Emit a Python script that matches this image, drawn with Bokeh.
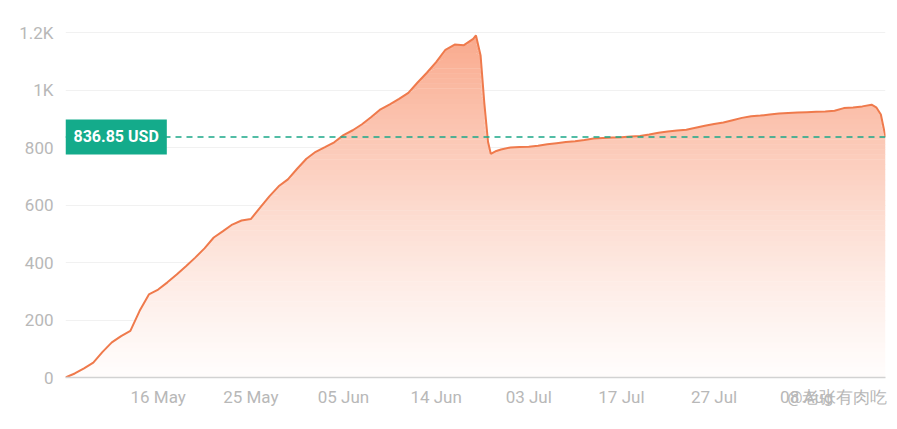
import numpy as np
from bokeh.plotting import figure
from bokeh.models import Range1d, Span, Label, FixedTicker
from bokeh.embed import file_html
from bokeh.resources import INLINE

# ---- data ----
x_idx = [0, 1, 2, 3, 4, 5, 6, 7, 8, 9, 10, 11, 12, 13, 14, 15, 16, 17, 18, 19,
         20, 21, 22, 23, 24, 25, 26, 27, 28, 29, 30, 31, 32, 33, 34, 35, 36, 37, 38, 39,
         40, 41, 42, 43, 44, 44.3, 44.8, 45.2, 45.6, 45.9, 46.5, 47, 48, 49,
         50, 51, 52, 53, 54, 55, 56, 57, 58, 59, 60, 61, 62, 63, 64, 65, 66, 67, 68, 69,
         70, 71, 72, 73, 74, 75, 76, 77, 78, 79, 80, 81, 82, 83, 84, 85, 86, 87, 87.5, 88, 88.5]
values = [0, 14, 32, 52, 89, 122, 144, 162, 232, 289, 306, 331, 358, 387, 417, 449, 487, 509, 532, 546,
          551, 591, 630, 665, 689, 726, 761, 785, 801, 818, 843, 860, 881, 906, 933, 950, 969, 990, 1026, 1060,
          1097, 1140, 1158, 1156, 1178, 1190, 1120, 955, 820, 778, 788, 793, 800, 802,
          803, 806, 811, 815, 819, 822, 826, 831, 833, 835, 836, 838, 840, 845, 851, 856, 859, 862, 869, 876,
          882, 887, 895, 903, 909, 911, 915, 918, 920, 922, 923, 924, 925, 928, 937, 939, 943, 949, 940, 915, 836.85]
tick_pos = [10, 20, 30, 40, 50, 60, 70, 80]
tick_labels = ["16 May", "25 May", "05 Jun", "14 Jun", "03 Jul", "17 Jul", "27 Jul", "08 Aug"]
y_ticks = [0, 200, 400, 600, 800, 1000, 1200]
y_tick_labels = ["0", "200", "400", "600", "800", "1K", "1.2K"]
last_price = 836.85
price_text = "836.85 USD"
watermark = "@老张有肉吃"
watermark_pos = 83.3

X_END = 88.5
Y_END = 1234.8

p = figure(width=897, height=429, output_backend="svg", toolbar_location=None,
           x_range=Range1d(0, X_END), y_range=Range1d(0, Y_END),
           min_border_left=65, min_border_right=12, min_border_top=22, min_border_bottom=52)
p.outline_line_color = None
p.background_fill_color = "white"
p.border_fill_color = "white"

# ---- gradient fill built from horizontal bands ----
xs = np.array(x_idx, dtype=float)
vs = np.array(values, dtype=float)
top_rgb = np.array([0xF6, 0x7C, 0x50])
n_bands = 70
h = Y_END / n_bands
for k in range(n_bands):
    lo, hi = k * h, (k + 1) * h
    frac = (lo + h / 2) / Y_END
    a = 0.02 + 0.66 * frac ** 1.25
    rgb = (1 - a) * 255 + a * top_rgb
    col = "#%02x%02x%02x" % tuple(int(round(c)) for c in rgb)
    top = np.minimum(vs, hi)
    bot = np.maximum(np.minimum(vs, lo - 1.5), 0)
    p.varea(x=xs, y1=bot, y2=top, fill_color=col, fill_alpha=1.0)

p.line(xs, vs, line_color="#ef7a4c", line_width=2)

# ---- axes / grid ----
xt = tick_pos + [watermark_pos]
p.xaxis.ticker = FixedTicker(ticks=xt)
p.xaxis.major_label_overrides = {**{t: l for t, l in zip(tick_pos, tick_labels)}, watermark_pos: watermark}
p.yaxis.ticker = FixedTicker(ticks=y_ticks)
p.yaxis.major_label_overrides = {t: l for t, l in zip(y_ticks, y_tick_labels)}
for ax in (p.xaxis, p.yaxis):
    ax.major_tick_line_color = None
    ax.minor_tick_line_color = None
    ax.major_label_text_color = "#b8b8b8"
    ax.major_label_text_font = "Roboto"
    ax.major_label_text_font_size = "17px"
p.yaxis.axis_line_color = None
p.yaxis.major_label_standoff = 6
p.xaxis.axis_line_color = "#d2d2d2"
p.xaxis.axis_line_width = 1.5
p.xaxis.major_label_standoff = 3
p.xgrid.grid_line_color = None
p.ygrid.grid_line_color = "#f1f1f1"
p.ygrid.grid_line_width = 1

# ---- last price line and tag ----
p.add_layout(Span(location=last_price, dimension="width", line_color="#1aa888",
                  line_dash="6 5", line_width=1.5))
p.add_layout(Label(x=0, y=last_price, text=price_text, text_color="white",
                   text_font="Roboto", text_font_style="bold", text_font_size="16px",
                   text_baseline="middle", text_align="left",
                   background_fill_color="#14ab8b", background_fill_alpha=1.0,
                   padding=8))

open("out.html", "w").write(file_html(p, INLINE))
